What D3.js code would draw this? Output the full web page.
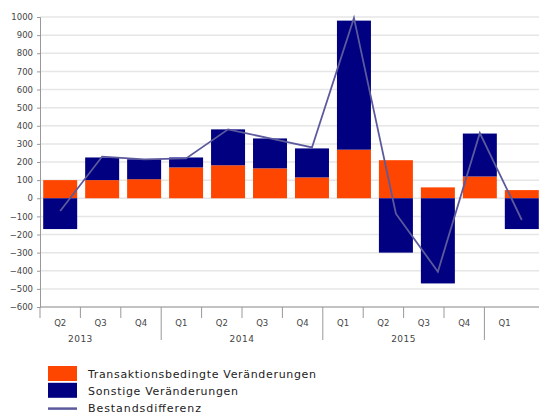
<!DOCTYPE html>
<html>
<head>
<meta charset="utf-8">
<script src="https://cdn.jsdelivr.net/npm/d3@7"></script>
<style>
  body { margin: 0; background: #fff; }
  text { font-family: "DejaVu Sans", Verdana, sans-serif; }
</style>
</head>
<body>
<svg id="chart"></svg>
<script>
'use strict';

const quarters = ['Q2', 'Q3', 'Q4', 'Q1', 'Q2', 'Q3', 'Q4', 'Q1', 'Q2', 'Q3', 'Q4', 'Q1'];
const years = ['2013', '2014', '2015'];
const transaktion = [100, 100, 105, 170, 182, 165, 115, 268, 210, 60, 120, 45];
const sonstige = [-170, 125, 110, 55, 198, 165, 160, 712, -300, -470, 237, -170];
const bestand = [-70, 230, 215, 220, 380, 330, 280, 995, -85, -405, 360, -120];
const yTicks = d3.range(-600, 1001, 100);

const width = 539;
const height = 414;
const plotTop = 17, plotBottom = 307, plotLeft = 40;

const svg = d3.select('#chart')
  .attr('width', width)
  .attr('height', height);

const y = d3.scaleLinear()
  .domain([-600, 1000])
  .range([plotBottom, plotTop]);

// bars and axis labels are not quite on the same grid in the original
const xBar = d3.scaleBand()
  .domain(d3.range(quarters.length))
  .range([39, 543])
  .paddingInner(0.19)
  .paddingOuter(0.1);

const xAxis = d3.scaleBand()
  .domain(d3.range(quarters.length))
  .range([plotLeft, plotLeft + 40.4 * quarters.length]);

// gridlines
svg.append('g')
  .selectAll('line')
  .data(yTicks)
  .enter()
  .append('line')
  .attr('x1', plotLeft)
  .attr('x2', width)
  .attr('y1', (d) => y(d))
  .attr('y2', (d) => y(d))
  .attr('stroke', '#e6e6e6')
  .attr('stroke-width', 1.5);

// y axis
const yAxis = svg.append('g')
  .attr('transform', `translate(${plotLeft},0)`)
  .call(d3.axisLeft(y).tickValues(yTicks).tickSize(3).tickPadding(4).tickFormat(d3.format('d')));
yAxis.select('.domain').attr('stroke', '#999');
yAxis.selectAll('.tick line').attr('stroke', '#999');
yAxis.selectAll('text')
  .attr('font-family', '"DejaVu Sans", Verdana, sans-serif')
  .attr('font-size', '8.5px')
  .attr('fill', '#444');

// bars: orange
svg.append('g')
  .selectAll('rect')
  .data(transaktion)
  .enter()
  .append('rect')
  .attr('x', (d, i) => xBar(i))
  .attr('y', (d) => y(Math.max(0, d)))
  .attr('width', xBar.bandwidth())
  .attr('height', (d) => Math.abs(y(d) - y(0)))
  .attr('fill', '#ff4600');

// bars: navy, stacked on orange when positive
svg.append('g')
  .selectAll('rect')
  .data(sonstige)
  .enter()
  .append('rect')
  .attr('x', (d, i) => xBar(i))
  .attr('y', (d, i) => d >= 0 ? y(transaktion[i] + d) : y(0))
  .attr('width', xBar.bandwidth())
  .attr('height', (d) => Math.abs(y(d) - y(0)))
  .attr('fill', '#000080');

// line
const line = d3.line()
  .x((d, i) => xBar(i) + xBar.bandwidth() / 2)
  .y((d) => y(d));

svg.append('path')
  .datum(bestand)
  .attr('d', line)
  .attr('fill', 'none')
  .attr('stroke', '#5c5a9c')
  .attr('stroke-width', 1.8);

// x axis
svg.append('line')
  .attr('x1', plotLeft)
  .attr('x2', width)
  .attr('y1', plotBottom)
  .attr('y2', plotBottom)
  .attr('stroke', '#999');

const xg = svg.append('g');
xg.selectAll('line')
  .data(d3.range(quarters.length))
  .enter()
  .append('line')
  .attr('x1', (d) => xAxis(d))
  .attr('x2', (d) => xAxis(d))
  .attr('y1', plotBottom)
  .attr('y2', (d, i) => quarters[i] === 'Q1' ? plotBottom + 33 : plotBottom + 11)
  .attr('stroke', '#999');

xg.selectAll('text')
  .data(quarters)
  .enter()
  .append('text')
  .text((d) => d)
  .attr('x', (d, i) => xAxis(i) + xAxis.bandwidth() / 2)
  .attr('y', plotBottom + 19)
  .attr('text-anchor', 'middle')
  .attr('font-size', '8.5px')
  .attr('fill', '#444');

// year labels centred over four quarters (2013 begins with Q1 outside the plot)
const yearStart = [-1, 3, 7];
svg.append('g')
  .selectAll('text')
  .data(years)
  .enter()
  .append('text')
  .text((d) => d)
  .attr('x', (d, i) => plotLeft + 40.4 * (yearStart[i] + 2))
  .attr('y', plotBottom + 35)
  .attr('text-anchor', 'middle')
  .attr('font-size', '9px')
  .attr('letter-spacing', '0.5px')
  .attr('fill', '#444');

// legend
const legendItems = [
  { name: 'Transaktionsbedingte Veränderungen', color: '#ff4600', type: 'rect', len: 228 },
  { name: 'Sonstige Veränderungen', color: '#000080', type: 'rect', len: 150 },
  { name: 'Bestandsdifferenz', color: '#5c5a9c', type: 'line', len: 113 },
];
const legend = svg.append('g');
legendItems.forEach((item, i) => {
  const cy = 374 + i * 16.8;
  if (item.type === 'rect') {
    legend.append('rect')
      .attr('x', 48).attr('y', cy - 8)
      .attr('width', 29).attr('height', 15)
      .attr('fill', item.color);
  } else {
    legend.append('line')
      .attr('x1', 48).attr('x2', 77)
      .attr('y1', cy + 1).attr('y2', cy + 1)
      .attr('stroke', item.color)
      .attr('stroke-width', 2.5);
  }
  legend.append('text')
    .text(item.name)
    .attr('x', 88)
    .attr('y', cy + 4)
    .attr('font-size', '11px')
    .attr('textLength', item.len)
    .attr('lengthAdjust', 'spacing')
    .attr('fill', '#222');
});
</script>
</body>
</html>
